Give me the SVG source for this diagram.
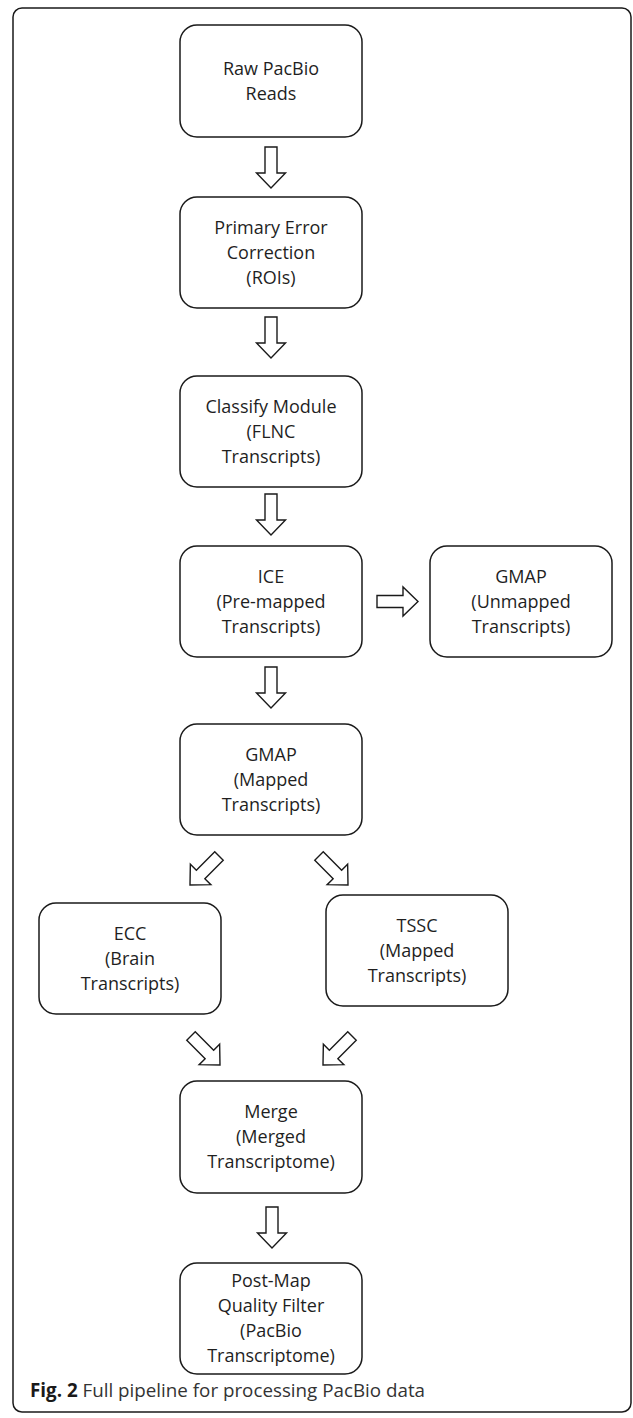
<svg xmlns="http://www.w3.org/2000/svg" width="633" height="1418" viewBox="0 0 633 1418">
<style>
.box{fill:#fff;stroke:#1a1a1a;stroke-width:1.5}
.t{font-family:"Open Sans","Liberation Sans",sans-serif;font-size:18px;fill:#1f1f1f;text-anchor:middle}
.arr{fill:#fff;stroke:#1a1a1a;stroke-width:1.4;stroke-linejoin:miter}
.cap{font-family:"Open Sans","Liberation Sans",sans-serif;font-size:18.8px;fill:#333}
</style>
<defs>
<path id="ba" d="M-6,-41 L6,-41 L6,-15 L14.5,-15 L0,0 L-14.5,-15 L-6,-15 Z"/>
</defs>
<rect x="13" y="8" width="618" height="1404" rx="9" fill="#fff" stroke="#1a1a1a" stroke-width="1.5"/>

<g id="n1"><rect class="box" x="180" y="25" width="182" height="112" rx="17"/>
<text class="t" x="271" y="75">Raw PacBio</text><text class="t" x="271" y="100">Reads</text></g>

<g id="n2"><rect class="box" x="180" y="197" width="182" height="111" rx="17"/>
<text class="t" x="271" y="234">Primary Error</text><text class="t" x="271" y="259">Correction</text><text class="t" x="271" y="284">(ROIs)</text></g>

<g id="n3"><rect class="box" x="180" y="376" width="182" height="111" rx="17"/>
<text class="t" x="271" y="413">Classify Module</text><text class="t" x="271" y="438">(FLNC</text><text class="t" x="271" y="463">Transcripts)</text></g>

<g id="n4"><rect class="box" x="180" y="546" width="182" height="111" rx="17"/>
<text class="t" x="271" y="583">ICE</text><text class="t" x="271" y="608">(Pre-mapped</text><text class="t" x="271" y="633">Transcripts)</text></g>

<g id="n4b"><rect class="box" x="430" y="546" width="182" height="111" rx="17"/>
<text class="t" x="521" y="583">GMAP</text><text class="t" x="521" y="608">(Unmapped</text><text class="t" x="521" y="633">Transcripts)</text></g>

<g id="n5"><rect class="box" x="180" y="724" width="182" height="111" rx="17"/>
<text class="t" x="271" y="761">GMAP</text><text class="t" x="271" y="786">(Mapped</text><text class="t" x="271" y="811">Transcripts)</text></g>

<g id="n6"><rect class="box" x="39" y="903" width="182" height="111" rx="17"/>
<text class="t" x="130" y="940">ECC</text><text class="t" x="130" y="965">(Brain</text><text class="t" x="130" y="990">Transcripts)</text></g>

<g id="n7"><rect class="box" x="326" y="895" width="182" height="111" rx="17"/>
<text class="t" x="417" y="932">TSSC</text><text class="t" x="417" y="957">(Mapped</text><text class="t" x="417" y="982">Transcripts)</text></g>

<g id="n8"><rect class="box" x="180" y="1081" width="182" height="112" rx="17"/>
<text class="t" x="271" y="1118">Merge</text><text class="t" x="271" y="1143">(Merged</text><text class="t" x="271" y="1168">Transcriptome)</text></g>

<g id="n9"><rect class="box" x="180" y="1263" width="182" height="111" rx="17"/>
<text class="t" x="271" y="1287">Post-Map</text><text class="t" x="271" y="1312">Quality Filter</text><text class="t" x="271" y="1337">(PacBio</text><text class="t" x="271" y="1362">Transcriptome)</text></g>

<g id="connectors">
<use href="#ba" class="arr" transform="translate(271,188)"/>
<use href="#ba" class="arr" transform="translate(271,358)"/>
<use href="#ba" class="arr" transform="translate(271,535)"/>
<use href="#ba" class="arr" transform="translate(271,708)"/>
<use href="#ba" class="arr" transform="translate(272,1248)"/>
<use href="#ba" class="arr" transform="translate(418,601.5) rotate(-90)"/>
<use href="#ba" class="arr" transform="translate(190,885) rotate(45)"/>
<use href="#ba" class="arr" transform="translate(348,885) rotate(-45)"/>
<use href="#ba" class="arr" transform="translate(220,1065) rotate(-45)"/>
<use href="#ba" class="arr" transform="translate(323,1065) rotate(45)"/>
</g>

<text class="cap" x="30" y="1397"><tspan font-weight="bold" fill="#1a1a1a">Fig. 2</tspan> Full pipeline for processing PacBio data</text>
</svg>
